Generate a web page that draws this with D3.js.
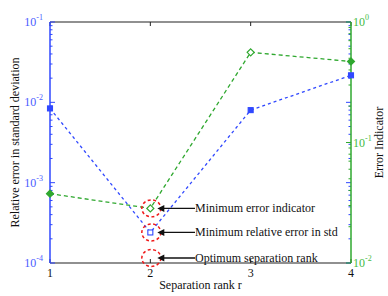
<!DOCTYPE html>
<html>
<head>
<meta charset="utf-8">
<script src="https://cdn.jsdelivr.net/npm/d3@7"></script>
<style>
  body { margin: 0; background: #fff; }
  text { font-family: "Liberation Serif", "Times New Roman", serif; }
</style>
</head>
<body>
<svg width="388" height="296"></svg>
<script>
// data
const ranks = [1, 2, 3, 4]
const relErr = [8.4e-3, 2.4e-4, 8.0e-3, 2.17e-2]
const errInd = [0.0376, 0.0284, 0.56, 0.47]
const leftTicks = [1e-4, 1e-3, 1e-2, 1e-1]
const rightTicks = [1e-2, 1e-1, 1e0]
const notes = ["Minimum error indicator", "Minimum relative error in std", "Optimum separation rank"]

const blue = "#3048ff", green = "#2fa82f", red = "#f01818"

var svg = d3.select("svg"),
  margin = { left: 50, right: 37, top: 22, bottom: 33 },
  width = 388 - margin.left - margin.right,
  height = 296 - margin.top - margin.bottom

var x = d3.scaleLinear().domain([1, 4]).range([0, width])
var yL = d3.scaleLog().domain([1e-4, 1e-1]).range([height, 0])
var yR = d3.scaleLog().domain([1e-2, 1]).range([height, 0])

var g = svg.append("g").attr("transform", "translate(" + margin.left + "," + margin.top + ")")

// minor ticks (log) for both y scales
function minors(scale) {
  var d = scale.domain(), out = []
  for (var e = Math.log10(d[0]); e < Math.log10(d[1]); e++)
    for (var k = 2; k <= 9; k++) out.push(k * Math.pow(10, e))
  return out
}

// box: top and bottom in black
g.append("line").attr("x1", 0).attr("x2", width).attr("y1", 0).attr("y2", 0)
  .attr("stroke", "#222").attr("stroke-width", 1.2)
g.append("line").attr("x1", 0).attr("x2", width).attr("y1", height).attr("y2", height)
  .attr("stroke", "#222").attr("stroke-width", 1.2)

// x ticks (inside, top and bottom)
ranks.forEach(function (r) {
  g.append("line").attr("x1", x(r)).attr("x2", x(r)).attr("y1", height).attr("y2", height - 4)
    .attr("stroke", "#222")
  g.append("line").attr("x1", x(r)).attr("x2", x(r)).attr("y1", 0).attr("y2", 4)
    .attr("stroke", "#222")
  g.append("text").attr("x", x(r)).attr("y", height + 14).attr("text-anchor", "middle")
    .attr("font-size", 12).attr("fill", "#111").text(r)
})

// left-axis ticks mirrored on both sides
minors(yL).forEach(function (v) {
  g.append("line").attr("x1", 0).attr("x2", 2.5).attr("y1", yL(v)).attr("y2", yL(v))
    .attr("stroke", blue).attr("stroke-width", 1)
  g.append("line").attr("x1", width).attr("x2", width - 2.5).attr("y1", yL(v)).attr("y2", yL(v))
    .attr("stroke", blue).attr("stroke-width", 1)
})
leftTicks.forEach(function (v) {
  g.append("line").attr("x1", 0).attr("x2", 5).attr("y1", yL(v)).attr("y2", yL(v)).attr("stroke", blue)
  g.append("line").attr("x1", width).attr("x2", width - 5).attr("y1", yL(v)).attr("y2", yL(v)).attr("stroke", blue)
  var t = g.append("text").attr("x", -7).attr("y", yL(v) + 4).attr("text-anchor", "end")
    .attr("font-size", 12).attr("fill", "#4a5cff")
  t.append("tspan").text("10")
  t.append("tspan").attr("dy", -6).attr("font-size", 8).text(Math.round(Math.log10(v)))
})
minors(yR).forEach(function (v) {
  g.append("line").attr("x1", width).attr("x2", width - 2.5).attr("y1", yR(v)).attr("y2", yR(v))
    .attr("stroke", green)
})
rightTicks.forEach(function (v) {
  g.append("line").attr("x1", width).attr("x2", width - 5).attr("y1", yR(v)).attr("y2", yR(v)).attr("stroke", green)
  var t = g.append("text").attr("x", width + 2).attr("y", yR(v) + 4)
    .attr("font-size", 12).attr("fill", "#44bb44")
  t.append("tspan").text("10")
  t.append("tspan").attr("dy", -6).attr("font-size", 8).text(Math.round(Math.log10(v)))
})

// y axis lines
g.append("line").attr("x1", 0).attr("x2", 0).attr("y1", 0).attr("y2", height)
  .attr("stroke", blue).attr("stroke-width", 1.5)
g.append("line").attr("x1", width).attr("x2", width).attr("y1", 0).attr("y2", height)
  .attr("stroke", green).attr("stroke-width", 1.5)

// series lines
g.append("path").datum(relErr)
  .attr("d", d3.line().x(function (d, i) { return x(ranks[i]) }).y(function (d) { return yL(d) }))
  .attr("fill", "none").attr("stroke", blue).attr("stroke-width", 1.3).attr("stroke-dasharray", "3,3")
g.append("path").datum(errInd)
  .attr("d", d3.line().x(function (d, i) { return x(ranks[i]) }).y(function (d) { return yR(d) }))
  .attr("fill", "none").attr("stroke", green).attr("stroke-width", 1.3).attr("stroke-dasharray", "4,3")

// markers
relErr.forEach(function (v, i) {
  var hollow = i === 1
  g.append("rect").attr("x", x(ranks[i]) - 2.5).attr("y", yL(v) - 2.5).attr("width", 5).attr("height", 5)
    .attr("fill", hollow ? "#fff" : blue).attr("stroke", blue).attr("stroke-width", 1.1)
})
errInd.forEach(function (v, i) {
  var hollow = i === 1 || i === 2
  g.append("path").attr("transform", "translate(" + x(ranks[i]) + "," + yR(v) + ")")
    .attr("d", "M0,-3.5L3.5,0L0,3.5L-3.5,0Z")
    .attr("fill", hollow ? "#fff" : green).attr("stroke", green).attr("stroke-width", 1.2)
})

// annotations
var noteY = [yR(errInd[1]), yL(relErr[1]), height - 5]
noteY.forEach(function (yy, i) {
  g.append("ellipse").attr("cx", x(2) + 1).attr("cy", yy).attr("rx", 9.5).attr("ry", 8.5)
    .attr("fill", "none").attr("stroke", red).attr("stroke-width", 1.5).attr("stroke-dasharray", "3,2.5")
  g.append("line").attr("x1", x(2) + 10).attr("x2", 145).attr("y1", yy).attr("y2", yy)
    .attr("stroke", "#111").attr("stroke-width", 1.3)
  g.append("path").attr("d", "M" + (x(2) + 7) + "," + yy + "l7,-3.5l0,7z").attr("fill", "#111")
  g.append("text").attr("x", 145).attr("y", yy + 4).attr("font-size", 12).attr("fill", "#111").text(notes[i])
})

// axis titles
svg.append("text").attr("transform", "translate(19," + (margin.top + height / 2) + ") rotate(-90)")
  .attr("text-anchor", "middle").attr("font-size", 12).attr("fill", "#111")
  .text("Relative error in standard deviation")
svg.append("text").attr("transform", "translate(383," + (margin.top + height / 2) + ") rotate(-90)")
  .attr("text-anchor", "middle").attr("font-size", 12).attr("fill", "#111")
  .text("Error Indicator")
svg.append("text").attr("x", margin.left + width / 2).attr("y", 289).attr("text-anchor", "middle")
  .attr("font-size", 12).attr("fill", "#111").text("Separation rank r")
</script>
</body>
</html>
